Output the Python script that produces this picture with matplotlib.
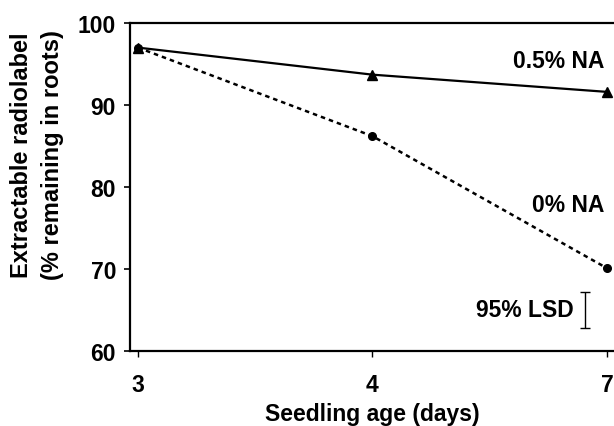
import matplotlib
matplotlib.use("Agg")
import matplotlib.pyplot as plt

plt.rcParams.update({
    "font.family": ["Liberation Sans", "DejaVu Sans"],
    "font.weight": "bold",
    "axes.labelweight": "bold",
    "font.size": 16.5,
})

ages = ["3", "4", "7"]
na_05 = [97.0, 93.7, 91.6]
na_0 = [97.0, 86.2, 70.1]
lsd_center = 65.0
lsd_value = 4.5

fig = plt.figure(figsize=(6.14, 4.27), dpi=100)
ax = fig.add_axes([130 / 614, 75 / 427, 484 / 614, 328 / 427])

x = range(len(ages))
ax.plot(x, na_05, color="black", lw=1.6, marker="^", ms=7, zorder=3)
ax.plot(x, na_0, color="black", lw=1.8, ls=(0, (1.8, 1.6)), marker="o", ms=5.5, zorder=3)

ax.text(1.99, 95.4, "0.5% NA", ha="right", va="center")
ax.text(1.99, 77.9, "0% NA", ha="right", va="center")

# LSD bar
ax.errorbar([1.906], [lsd_center], yerr=[lsd_value / 2], color="black",
            lw=1.0, capsize=3.5, capthick=1.0)
ax.text(1.86, lsd_center, "95% LSD", ha="right", va="center")

ax.set_xlim(-0.034, 2.03)
ax.set_ylim(60, 100)
ax.set_xticks(list(x))
ax.set_xticklabels(ages)
ax.set_yticks([60, 70, 80, 90, 100])
ax.tick_params(axis="y", direction="out", length=4, width=1.2, pad=6)
ax.tick_params(axis="x", direction="out", length=4, width=1.0, pad=12)

ax.spines["right"].set_visible(False)
for s in ["left", "bottom", "top"]:
    ax.spines[s].set_linewidth(1.6)

ax.set_xlabel("Seedling age (days)", labelpad=4)
fig.text(37 / 614, 1 - 155 / 427,
         "Extractable radiolabel\n(% remaining in roots)",
         rotation=90, ha="center", va="center", multialignment="center",
         linespacing=1.45, fontsize=17)

fig.savefig("out.png", dpi=100, facecolor="white")
